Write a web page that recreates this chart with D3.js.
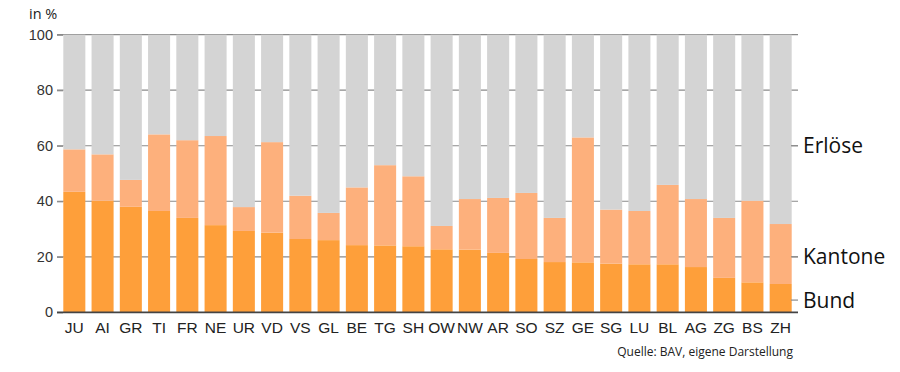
<!DOCTYPE html>
<html>
<head>
<meta charset="utf-8">
<script src="https://cdn.jsdelivr.net/npm/d3@7"></script>
<style>
  body { margin: 0; background: #fff; }
  svg { font-family: "Open Sans", "Noto Sans", sans-serif; }
</style>
</head>
<body>
<script>
var width = 900,
    height = 372;

// Kantone, sortiert nach Bundesanteil
var cantons = ['JU', 'AI', 'GR', 'TI', 'FR', 'NE', 'UR', 'VD', 'VS', 'GL', 'BE', 'TG', 'SH',
               'OW', 'NW', 'AR', 'SO', 'SZ', 'GE', 'SG', 'LU', 'BL', 'AG', 'ZG', 'BS', 'ZH'];

// Anteile in %
var bund    = [43.4, 40.2, 38.0, 36.5, 34.0, 31.4, 29.3, 28.7, 26.4, 26.0, 24.2, 24.1, 23.8,
               22.7, 22.6, 21.4, 19.2, 18.1, 18.0, 17.5, 17.3, 17.3, 16.3, 12.4, 10.8, 10.2];
var kantone = [15.3, 16.7,  9.7, 27.6, 28.0, 32.1,  8.6, 32.6, 15.6,  9.8, 20.8, 28.9, 25.2,
                8.4, 18.2, 19.8, 23.8, 15.9, 45.0, 19.5, 19.2, 28.6, 24.5, 21.6, 29.4, 21.6];
var erloese = bund.map(function(b, i) { return 100 - b - kantone[i]; });

var yTicks = [0, 20, 40, 60, 80, 100];
var seriesNames = ['Bund', 'Kantone', 'Erlöse'];
var labelValues = [4.4, 20, 60];   // Position der Serienbeschriftung rechts
var colors = ['#fe9f3a', '#fdb07c', '#d4d4d4'];

var table = cantons.map(function(c, i) {
  return { canton: c, Bund: bund[i], Kantone: kantone[i], 'Erlöse': erloese[i] };
});

var x = d3.scaleBand()
  .domain(cantons)
  .range([57, 798])
  .paddingInner(0.22)
  .paddingOuter(0.223);

var y = d3.scaleLinear()
  .domain([0, 100])
  .range([312.3, 34.7]);

var svg = d3.select('body')
  .append('svg')
  .attr('width', width)
  .attr('height', height);

// gridlines (behind the bars)
svg.append('g')
  .selectAll('line')
  .data(yTicks.slice(1))
  .enter().append('line')
  .attr('x1', 57)
  .attr('x2', 798)
  .attr('y1', function(d) { return y(d); })
  .attr('y2', function(d) { return y(d); })
  .attr('stroke', '#8a8a8a')
  .attr('stroke-width', 1.2);

var stack = d3.stack().keys(seriesNames);

svg.append('g')
  .selectAll('g')
  .data(stack(table))
  .enter().append('g')
  .attr('fill', function(d, i) { return colors[i]; })
  .selectAll('rect')
  .data(function(d) { return d; })
  .enter().append('rect')
  .attr('x', function(d) { return x(d.data.canton); })
  .attr('width', x.bandwidth())
  .attr('y', function(d) { return y(d[1]); })
  .attr('height', function(d) { return y(d[0]) - y(d[1]); });

// left axis
var yAxis = svg.append('g')
  .attr('transform', 'translate(63,0)')
  .call(d3.axisLeft(y).tickValues(yTicks).tickSize(6).tickPadding(4));
yAxis.select('.domain').remove();
yAxis.selectAll('.tick line').attr('stroke', '#8a8a8a').attr('stroke-width', 1.2);
yAxis.selectAll('.tick text')
  .attr('fill', '#333')
  .style('font-size', '14.5px');

// baseline
svg.append('line')
  .attr('x1', 57)
  .attr('x2', 798)
  .attr('y1', y(0))
  .attr('y2', y(0))
  .attr('stroke', '#444')
  .attr('stroke-width', 1.8);

// bottom axis labels
var xAxis = svg.append('g')
  .attr('transform', 'translate(0,' + y(0) + ')')
  .call(d3.axisBottom(x).tickSize(0).tickPadding(10));
xAxis.select('.domain').remove();
xAxis.selectAll('.tick text')
  .attr('fill', '#222')
  .style('font-size', '15.5px');

// series labels on the right
var lab = svg.append('g')
  .selectAll('g')
  .data(seriesNames)
  .enter().append('g')
  .attr('transform', function(d, i) { return 'translate(0,' + y(labelValues[i]) + ')'; });
lab.append('line')
  .attr('x1', 791)
  .attr('x2', 798)
  .attr('stroke', '#8a8a8a')
  .attr('stroke-width', 1.2);
lab.append('text')
  .attr('x', 803)
  .attr('dy', '0.36em')
  .attr('fill', '#111')
  .style('font-size', '21px')
  .text(function(d) { return d; });

svg.append('text')
  .attr('x', 29)
  .attr('y', 19)
  .attr('fill', '#222')
  .style('font-size', '14.5px')
  .text('in %');

svg.append('text')
  .attr('x', 793)
  .attr('y', 356)
  .attr('text-anchor', 'end')
  .attr('fill', '#222')
  .style('font-size', '12px')
  .text('Quelle: BAV, eigene Darstellung');
</script>
</body>
</html>
